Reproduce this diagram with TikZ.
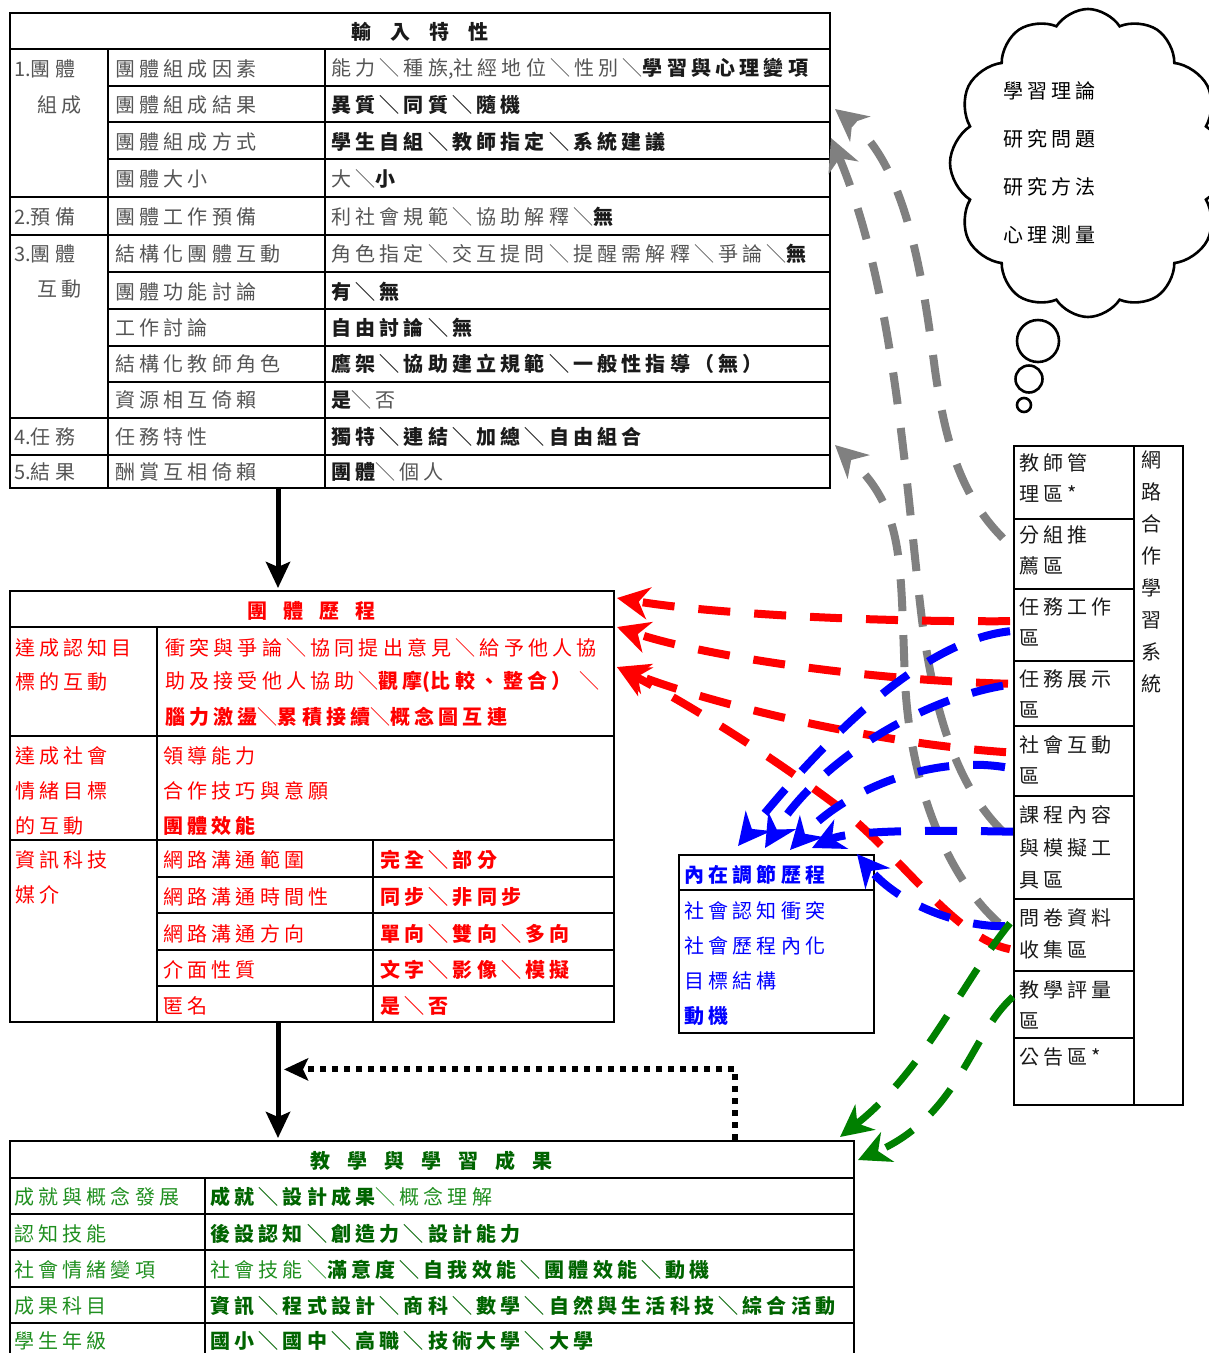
\documentclass[tikz,border=0pt]{standalone}
\usepackage{fontspec}
\setmainfont{Noto Sans CJK TC}[LetterSpace=21]
\usetikzlibrary{arrows.meta,shapes.symbols,calc}
\definecolor{tg}{HTML}{555555}
\definecolor{tb}{HTML}{1A1A1A}
\definecolor{arrgray}{HTML}{808080}
\definecolor{gr}{HTML}{1F8F1F}
\definecolor{grb}{HTML}{006400}
\definecolor{arrgreen}{HTML}{008000}
\newcommand\cfs{\fontsize{20}{24}\selectfont}
\newcommand\bk[1]{{\bfseries\color{tb}#1}}
\newcommand\bd[1]{{\bfseries #1}}
\newcommand\bgn[1]{{\bfseries\color{grb}#1}}
\newcommand\nls[1]{{\addfontfeature{LetterSpace=0}#1}}
\newcommand\gpa{\hspace{19pt}}
\newcommand\gpb{\hspace{16pt}}
\newcommand\gpc{\hspace{17pt}}
\begin{document}
\begin{tikzpicture}[x=1pt,y=-1pt,
  tbl/.style={draw=black,line width=2.4pt},
  box/.style={draw=black,line width=2.4pt,anchor=north west,inner sep=0pt},
  tx/.style={anchor=west,inner sep=0pt,font=\cfs},
  darr/.style={line width=8pt,dash pattern=on 32pt off 24pt,-{Stealth[length=32pt,width=32pt,inset=10pt]}},
  garr/.style={darr,draw=arrgray},
  rarr/.style={darr,draw=red},
  barr/.style={darr,draw=blue},
  grarr/.style={darr,draw=arrgreen,line width=7pt},
  karr/.style={line width=5pt,-{Stealth[length=26pt,width=24pt,inset=5pt]}},
  zcell/.style={box,minimum width=120pt},
  bub/.style={circle,draw,line width=2.6pt,inner sep=0pt}
]
\useasboundingbox (0,0) rectangle (1209,1353);

% ---------- table 1 : input ----------
\node[box,minimum width=820pt,minimum height=475pt] (tIn) at (9,12) {};
\draw[tbl] (9,49) -- (829,49);
\foreach \y in {86,122,159,272,309,346,382} \draw[tbl] (108,\y) -- (829,\y);
\foreach \y in {197,235,418,455} \draw[tbl] (9,\y) -- (829,\y);
\draw[tbl] (108,49) -- (108,487) (325,49) -- (325,487);

\node[tx,anchor=center,text=tb,font=\cfs\bfseries] (h1) at (420,32) {輸\gpa 入\gpa 特\gpa 性};
\node[tx,text=tg] (a1) at (14,69) {\nls{1.}團體};
\node[tx,text=tg] (a2) at (37,105) {組成};
\node[tx,text=tg] (a3) at (14,217) {\nls{2.}預備};
\node[tx,text=tg] (a4) at (14,254) {\nls{3.}團體};
\node[tx,text=tg] (a5) at (37,289) {互動};
\node[tx,text=tg] (a6) at (14,437) {\nls{4.}任務};
\node[tx,text=tg] (a7) at (14,472) {\nls{5.}結果};

\node[tx,text=tg] (b1) at (115,69) {團體組成因素};
\node[tx,text=tg] (b2) at (115,105) {團體組成結果};
\node[tx,text=tg] (b3) at (115,142) {團體組成方式};
\node[tx,text=tg] (b4) at (115,179) {團體大小};
\node[tx,text=tg] (b5) at (115,217) {團體工作預備};
\node[tx,text=tg] (b6) at (115,254) {結構化團體互動};
\node[tx,text=tg] (b7) at (115,292) {團體功能討論};
\node[tx,text=tg] (b8) at (115,328) {工作討論};
\node[tx,text=tg] (b9) at (115,364) {結構化教師角色};
\node[tx,text=tg] (b10) at (115,400) {資源相互倚賴};
\node[tx,text=tg] (b11) at (115,437) {任務特性};
\node[tx,text=tg] (b12) at (115,472) {酬賞互相倚賴};

\node[tx,text=tg] (c1) at (331,69) {能力＼種族\nls{,}社經地位＼性別＼\bk{學習與心理變項}};
\node[tx,text=tg] (c2) at (331,105) {\bk{異質＼同質＼隨機}};
\node[tx,text=tg] (c3) at (331,142) {\bk{學生自組＼教師指定＼系統建議}};
\node[tx,text=tg] (c4) at (331,179) {大＼\bk{小}};
\node[tx,text=tg] (c5) at (331,217) {利社會規範＼協助解釋＼\bk{無}};
\node[tx,text=tg] (c6) at (331,254) {角色指定＼交互提問＼提醒需解釋＼爭論＼\bk{無}};
\node[tx,text=tg] (c7) at (331,292) {\bk{有＼無}};
\node[tx,text=tg] (c8) at (331,328) {\bk{自由討論＼無}};
\node[tx,text=tg] (c9) at (331,364) {\bk{鷹架＼協助建立規範＼一般性指導（無）}};
\node[tx,text=tg] (c10) at (331,400) {\bk{是}＼否};
\node[tx,text=tg] (c11) at (331,437) {\bk{獨特＼連結＼加總＼自由組合}};
\node[tx,text=tg] (c12) at (331,472) {\bk{團體}＼個人};

% ---------- table 2 : group process ----------
\node[box,minimum width=604pt,minimum height=431pt] (tGrp) at (9,590) {};
\draw[tbl] (9,627)--(613,627) (9,736)--(613,736) (9,840)--(613,840);
\foreach \y in {877,913,950,986} \draw[tbl] (157,\y)--(613,\y);
\draw[tbl] (157,627)--(157,1021) (373,840)--(373,1021);

\node[tx,anchor=center,text=red,font=\cfs\bfseries] (h2) at (311,611) {團\gpb 體\gpb 歷\gpb 程};
\node[tx,text=red] (d1) at (15,648) {達成認知目};
\node[tx,text=red] (d2) at (15,682) {標的互動};
\node[tx,text=red] (d3) at (15,756) {達成社會};
\node[tx,text=red] (d4) at (15,791) {情緒目標};
\node[tx,text=red] (d5) at (15,826) {的互動};
\node[tx,text=red] (d6) at (15,860) {資訊科技};
\node[tx,text=red] (d7) at (15,895) {媒介};

\node[tx,text=red] (e1) at (165,648) {衝突與爭論＼協同提出意見＼給予他人協};
\node[tx,text=red] (e2) at (165,682) {助及接受他人協助＼\bd{觀摩\nls{(}比較、整合）}\hspace{8pt}＼};
\node[tx,text=red] (e3) at (165,717) {\bd{腦力激盪}＼\bd{累積接續}＼\bd{概念圖互連}};
\node[tx,text=red] (e4) at (163,756) {領導能力};
\node[tx,text=red] (e5) at (163,791) {合作技巧與意願};
\node[tx,text=red] (e6) at (163,826) {\bd{團體效能}};
\node[tx,text=red] (e7) at (163,860) {網路溝通範圍};
\node[tx,text=red] (e8) at (163,897) {網路溝通時間性};
\node[tx,text=red] (e9) at (163,934) {網路溝通方向};
\node[tx,text=red] (e10) at (163,970) {介面性質};
\node[tx,text=red] (e11) at (163,1006) {匿名};
\node[tx,text=red,font=\cfs\bfseries] (f1) at (380,860) {完全＼部分};
\node[tx,text=red,font=\cfs\bfseries] (f2) at (380,897) {同步＼非同步};
\node[tx,text=red,font=\cfs\bfseries] (f3) at (380,934) {單向＼雙向＼多向};
\node[tx,text=red,font=\cfs\bfseries] (f4) at (380,970) {文字＼影像＼模擬};
\node[tx,text=red,font=\cfs\bfseries] (f5) at (380,1006) {是＼否};

% ---------- table 3 : outcomes ----------
\node[box,minimum width=844pt,minimum height=225pt] (tOut) at (9,1140) {};
\draw[tbl] (9,1178)--(853,1178);
\foreach \y in {1214,1250,1287,1323} \draw[tbl] (9,\y)--(853,\y);
\draw[tbl] (205,1178)--(205,1365);

\node[tx,anchor=center,text=grb,font=\cfs\bfseries] (h3) at (431,1161) {教\gpc 學\gpc 與\gpc 學\gpc 習\gpc 成\gpc 果};
\node[tx,text=gr] (g1) at (14,1197) {成就與概念發展};
\node[tx,text=gr] (g2) at (14,1234) {認知技能};
\node[tx,text=gr] (g3) at (14,1270) {社會情緒變項};
\node[tx,text=gr] (g4) at (14,1306) {成果科目};
\node[tx,text=gr] (g5) at (14,1341) {學生年級};
\node[tx,text=gr] (k1) at (210,1197) {\bgn{成就＼設計成果}＼概念理解};
\node[tx,text=gr] (k2) at (210,1234) {\bgn{後設認知＼創造力＼設計能力}};
\node[tx,text=gr] (k3) at (210,1270) {社會技能＼\bgn{滿意度＼自我效能＼團體效能＼動機}};
\node[tx,text=gr] (k4) at (210,1306) {\bgn{資訊＼程式設計＼商科＼數學＼自然與生活科技＼綜合活動}};
\node[tx,text=gr] (k5) at (210,1341) {\bgn{國小＼國中＼高職＼技術大學＼大學}};

% ---------- inner regulation box ----------
\node[box,minimum width=195pt,minimum height=178pt] (tInner) at (678,854) {};
\draw[tbl] (678,890)--(873,890);
\node[tx,text=blue,font=\cfs\bfseries] (m0) at (684,875) {內在調節歷程};
\node[tx,text=blue] (m1) at (684,911) {社會認知衝突};
\node[tx,text=blue] (m2) at (684,946) {社會歷程內化};
\node[tx,text=blue] (m3) at (684,981) {目標結構};
\node[tx,text=blue,font=\cfs\bfseries] (m4) at (684,1016) {動機};

% ---------- right system table ----------
\node[zcell,minimum height=73pt] (z1) at (1013,445) {};
\node[zcell,minimum height=70pt] (z2) at (1013,518) {};
\node[zcell,minimum height=72pt] (z3) at (1013,588) {};
\node[zcell,minimum height=65pt] (z4) at (1013,660) {};
\node[zcell,minimum height=70pt] (z5) at (1013,725) {};
\node[zcell,minimum height=103pt] (z6) at (1013,795) {};
\node[zcell,minimum height=72pt] (z7) at (1013,898) {};
\node[zcell,minimum height=67pt] (z8) at (1013,970) {};
\node[zcell,minimum height=67pt] (z9) at (1013,1037) {};
\node[box,minimum width=49pt,minimum height=659pt] (zT) at (1133,445) {};
\node[anchor=north,inner sep=0pt,align=center,text=tb,font={\fontsize{20}{32}\selectfont}] (zTt) at (1151,451) {網\\路\\合\\作\\學\\習\\系\\統};

\node[tx,text=tb] (y1) at (1019,463) {教師管};
\node[tx,text=tb] (y2) at (1019,494) {理區*};
\node[tx,text=tb] (y3) at (1019,535) {分組推};
\node[tx,text=tb] (y4) at (1019,566) {薦區};
\node[tx,text=tb] (y5) at (1019,607) {任務工作};
\node[tx,text=tb] (y6) at (1019,638) {區};
\node[tx,text=tb] (y7) at (1019,679) {任務展示};
\node[tx,text=tb] (y8) at (1019,710) {區};
\node[tx,text=tb] (y9) at (1019,745) {社會互動};
\node[tx,text=tb] (y10) at (1019,776) {區};
\node[tx,text=tb] (y11) at (1019,815) {課程內容};
\node[tx,text=tb] (y12) at (1019,848) {與模擬工};
\node[tx,text=tb] (y13) at (1019,880) {具區};
\node[tx,text=tb] (y14) at (1019,918) {問卷資料};
\node[tx,text=tb] (y15) at (1019,950) {收集區};
\node[tx,text=tb] (y16) at (1019,990) {教學評量};
\node[tx,text=tb] (y17) at (1019,1021) {區};
\node[tx,text=tb] (y18) at (1019,1057) {公告區*};

% ---------- thought cloud ----------
\node[cloud,draw,line width=2.6pt,cloud puffs=12,cloud puff arc=115,aspect=0.9,minimum width=276pt,minimum height=308pt,inner sep=0pt] (cl) at (1088,163) {};
\node[bub,minimum size=42pt] (bb1) at (1038,341) {};
\node[bub,minimum size=27pt] (bb2) at (1029,379) {};
\node[bub,minimum size=14pt] (bb3) at (1024,405) {};
\node[tx,text=black] (q1) at (1003,91) {學習理論};
\node[tx,text=black] (q2) at (1003,139) {研究問題};
\node[tx,text=black] (q3) at (1003,187) {研究方法};
\node[tx,text=black] (q4) at (1003,235) {心理測量};

% ---------- tip coordinates ----------
\coordinate (gA) at (835,109);
\coordinate (gB) at (831,138);
\coordinate (gC) at (835,445);
\coordinate (r1) at (617,598);
\coordinate (r2) at (617,627);
\coordinate (r3) at (617,667);
\coordinate (bt1) at (738,846);
\coordinate (bt2) at (765,848);
\coordinate (bt3) at (790,850);
\coordinate (bt4) at (812,848);
\coordinate (bt5) at (857,854);
\coordinate (gt1) at (840,1137);
\coordinate (gt2) at (858,1160);

% ---------- gray arrows ----------
\draw[garr] ($(z2.west)+(-10,-16)$) .. controls (960,495) and (945,440) .. (935,370) .. controls (922,270) and (905,165) .. (gA);
\draw[garr] ($(z6.west)+(-10,-16)$) .. controls (960,790) and (935,720) .. (922,620) .. controls (905,480) and (895,290) .. (gB);
\draw[garr] ($(z7.west)+(-14,-12)$) .. controls (950,880) and (910,790) .. (905,680) .. controls (900,560) and (905,510) .. (gC);

% ---------- red arrows ----------
\draw[rarr] ($(z3.west)+(-3,-4)$) .. controls (850,622) and (700,612) .. (r1);
\draw[rarr] ($(z4.west)+(-5,-10)$) .. controls (860,680) and (700,655) .. (r2);
\draw[rarr] ($(z5.west)+(-7,-9)$) .. controls (860,742) and (700,700) .. (r3);
\draw[rarr] ($(z7.west)+(-3,14)$) .. controls (955,938) and (905,860) .. (840,808) .. controls (770,755) and (690,705) .. (r3);

% ---------- blue arrows ----------
\draw[barr] ($(z3.west)+(-3,6)$) .. controls (930,640) and (840,720) .. (bt1);
\draw[barr] ($(z4.west)+(-10,-8)$) .. controls (920,700) and (820,760) .. (bt2);
\draw[barr] ($(z5.west)+(-8,6)$) .. controls (930,755) and (845,790) .. (bt3);
\draw[barr] ($(z6.west)+(0,-16)$) .. controls (930,830) and (850,830) .. (bt4);
\draw[barr] ($(z7.west)+(-8,-9)$) .. controls (960,927) and (900,905) .. (bt5);

% ---------- green arrows ----------
\draw[grarr] ($(z7.west)+(-3,-12)$) .. controls (960,985) and (925,1070) .. (gt1);
\draw[grarr] ($(z8.west)+(0,-8)$) .. controls (970,1035) and (960,1115) .. (gt2);

% ---------- black arrows ----------
\draw[karr] ($(tIn.south west)+(269,0)$) -- ($(tGrp.north west)+(269,-2)$);
\draw[karr] ($(tGrp.south west)+(269,0)$) -- ($(tOut.north west)+(269,-2)$);
\draw[line width=6pt,dash pattern=on 6pt off 6pt,-{Stealth[length=24pt,width=22pt,inset=5pt]}] ($(tOut.north west)+(726,0)$) |- ($(tGrp.south west)+(275,46)$);
\end{tikzpicture}
\end{document}
